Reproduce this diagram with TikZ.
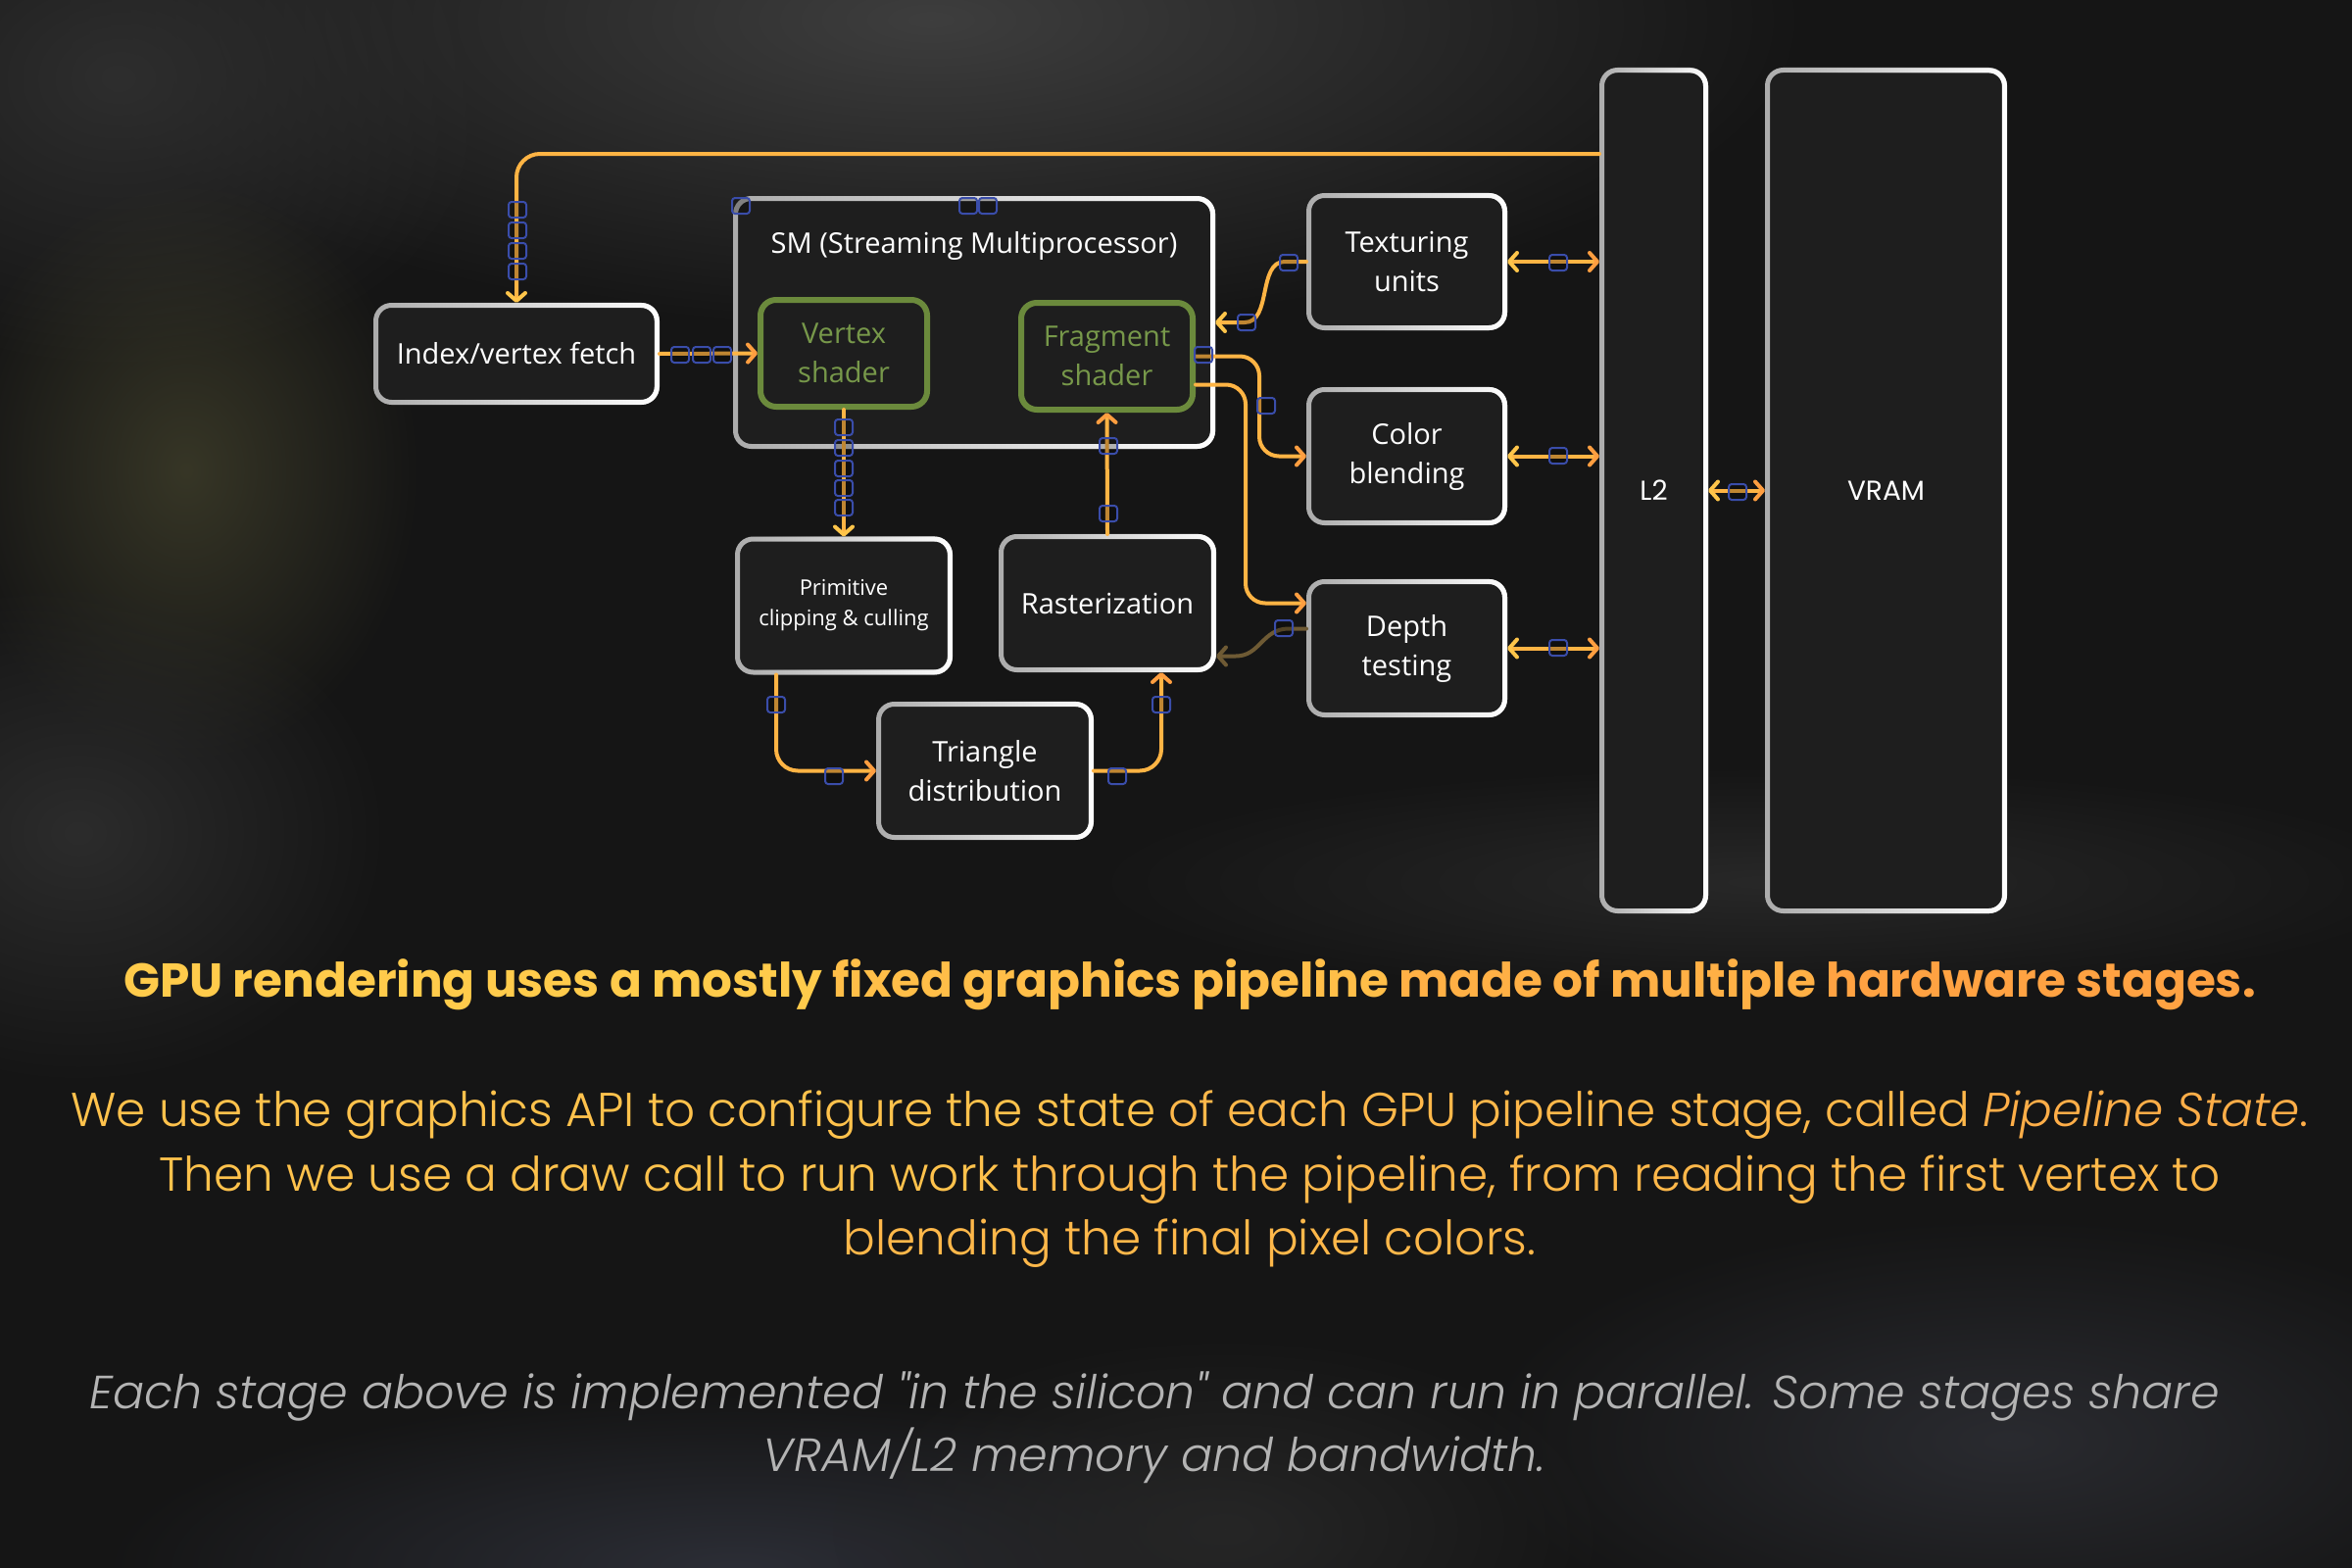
\documentclass[tikz,border=0pt]{standalone}
\usepackage{fontspec}
\setmainfont{Open Sans}
\newfontfamily\pop{Poppins}[UprightFont=* Light, ItalicFont=* Light Italic, BoldFont=* Bold]
\newfontfamily\popr{Poppins}
\usetikzlibrary{arrows.meta, calc, fadings}

\definecolor{bg}{HTML}{151515}
\definecolor{boxfill}{HTML}{1E1E1E}
\definecolor{ylw}{HTML}{FFC54A}
\definecolor{org}{HTML}{FF9E40}
\definecolor{wire}{HTML}{FFB444}
\definecolor{grn}{HTML}{6B8A3C}
\definecolor{grntxt}{HTML}{77984A}
\definecolor{hblue}{HTML}{3A4DAA}
\definecolor{dimw}{HTML}{6E5A34}
\definecolor{capgray}{HTML}{B4B4B4}
\definecolor{hA}{HTML}{FFCB4B}
\definecolor{hB}{HTML}{FFBE48}
\definecolor{hC}{HTML}{FFB045}
\definecolor{hD}{HTML}{FFA242}
\definecolor{bA}{HTML}{FFC24C}
\definecolor{bB}{HTML}{FFB84A}
\definecolor{bC}{HTML}{FFAE48}

\tikzfading[name=fadeleft, left color=transparent!100, right color=transparent!0]
\tikzfading[name=glow, inner color=transparent!0, outer color=transparent!100]

\tikzset{
  tipY/.tip={Straight Barb[length=8pt,width=18pt,round,color=ylw]},
  tipO/.tip={Straight Barb[length=8pt,width=18pt,round,color=org]},
  tipD/.tip={Straight Barb[length=8pt,width=18pt,round,color=dimw]},
  stage/.style={draw=gray!65, line width=5, rounded corners=16, fill=boxfill,
    text=white, align=center, inner sep=0, font=\fontsize{29}{40}\selectfont,
    postaction={draw=white, line width=5, path fading=fadeleft}},
  shader/.style={draw=grn, line width=6, rounded corners=16, fill=boxfill,
    text=grntxt, align=center, inner sep=0, font=\fontsize{29}{40}\selectfont},
  mem/.style={stage, font=\popr\fontsize{28}{34}\selectfont},
  lbl/.style={text=white, inner sep=0, font=\fontsize{29}{36}\selectfont},
  conn/.style={draw=wire, line width=4, line cap=round},
  dimconn/.style={draw=dimw, line width=4, line cap=round},
  hnd/.style={draw=hblue, line width=2, rounded corners=3, fill=black, fill opacity=0.25},
  caph/.style={anchor=base, inner sep=0, font=\pop\bfseries\fontsize{48.5}{56}\selectfont},
  capb/.style={anchor=base, inner sep=0, font=\pop\fontsize{48.5}{56}\selectfont},
  capi/.style={anchor=base, inner sep=0, text=capgray, font=\pop\itshape\fontsize{47.5}{56}\selectfont},
}

\begin{document}
\begin{tikzpicture}[x=1pt, y=-1pt]
\useasboundingbox (0,0) rectangle (2400,1600);
% background
\fill[bg] (0,0) rectangle (2400,1600);
\fill[color={rgb,255:red,62;green,62;blue,62}, path fading=glow] (950,20) ellipse [x radius=900pt, y radius=320pt];
\fill[color={rgb,255:red,46;green,46;blue,46}, path fading=glow] (120,80) ellipse [x radius=400pt, y radius=300pt];
\fill[color={rgb,255:red,66;green,65;blue,44}, path fading=glow, opacity=0.75] (190,480) ellipse [x radius=240pt, y radius=300pt];
\fill[color={rgb,255:red,44;green,44;blue,44}, path fading=glow] (80,850) ellipse [x radius=320pt, y radius=260pt];
\fill[color={rgb,255:red,44;green,46;blue,54}, path fading=glow] (750,1600) ellipse [x radius=650pt, y radius=180pt];
\fill[color={rgb,255:red,42;green,43;blue,48}, path fading=glow] (2050,1470) ellipse [x radius=550pt, y radius=230pt];
\fill[color={rgb,255:red,40;green,40;blue,40}, path fading=glow] (1800,900) ellipse [x radius=700pt, y radius=120pt];
\fill[color={rgb,255:red,38;green,38;blue,38}, path fading=glow] (1250,1560) ellipse [x radius=400pt, y radius=200pt];

% boxes
\node[stage, minimum width=487, minimum height=253] (sm) at (994,329) {};
\node[lbl] (smt) at (994,251) {SM (Streaming Multiprocessor)};
\node[shader, minimum width=170, minimum height=109] (vs) at (861,360.5) {Vertex\\shader};
\node[shader, minimum width=175, minimum height=109] (fs) at (1129.5,363.5) {Fragment\\shader};
\node[stage, minimum width=287, minimum height=99] (idx) at (527,361) {Index/vertex fetch};
\node[stage, minimum width=200, minimum height=135] (tex) at (1435.5,267) {Texturing\\units};
\node[stage, minimum width=200, minimum height=136] (cb) at (1435.5,465.5) {Color\\blending};
\node[stage, minimum width=200, minimum height=136] (dt) at (1435.5,661.5) {Depth\\testing};
\node[stage, minimum width=217, minimum height=136, font=\fontsize{22}{31}\selectfont] (pc) at (861,618) {Primitive\\clipping \& culling};
\node[stage, minimum width=217, minimum height=136] (ras) at (1130,615.5) {Rasterization};
\node[stage, minimum width=217, minimum height=136] (tri) at (1005,786.5) {Triangle\\distribution};
\node[mem, minimum width=106, minimum height=858] (l2) at (1687.5,500.5) {L2};
\node[mem, minimum width=242, minimum height=858] (vram) at (1924.5,500.5) {VRAM};

% connectors
\draw[conn, rounded corners=24, -tipY] (l2.west |- 0,157) -| (idx.north);
\draw[conn, -tipO] (idx.east) -- (vs.west);
\draw[conn, -tipY] (vs.south) -- (pc.north);
\draw[conn, -tipO] (ras.north) -- (fs.south);
\draw[conn, rounded corners=22, -tipO] ($(pc.south)+(-69,0)$) |- (tri.west);
\draw[conn, rounded corners=22, -tipO] (tri.east) -| ($(ras.south)+(55,0)$);
\draw[conn, -tipY] (tex.west) -- ($(tex.west)+(-22,0)$) .. controls ($(tex.west)+(-50,0)$) and ($(sm.east)+(58,0)$) .. ($(sm.east)+(30,0)$) -- (sm.east);
\draw[conn, rounded corners=20, -tipO] (fs.east) -| ($(cb.west)+(-48,0)$) -- (cb.west);
\draw[conn, rounded corners=20, -tipO] ($(fs.east)+(0,29)$) -| ($(dt.west)+(-62,-46)$) -- ($(dt.west)+(0,-46)$);
\draw[dimconn, -tipD] ($(dt.west)+(0,-20)$) -- ($(dt.west)+(-18,-20)$) .. controls ($(dt.west)+(-45,-20)$) and ($(ras.east)+(45,54)$) .. ($(ras.east)+(20,54)$) -- ($(ras.east)+(0,54)$);
\draw[conn, tipY-tipO] (tex.east) -- (tex.east -| l2.west);
\draw[conn, tipY-tipO] (cb.east) -- (cb.east -| l2.west);
\draw[conn, tipY-tipO] (dt.east) -- (dt.east -| l2.west);
\draw[conn, tipY-tipO] (l2.east) -- (vram.west);

% handles
\foreach \hx/\hy in {528/214,528/235,528/256,528/277,
  694/362,716/362,737/362, 756/210,988/210,1008/210,
  861/436,861/457,861/478,861/498,861/518, 1131/455,1131/524,
  792/719,851/792, 1140/792,1185/719, 1272/329,1315/268,
  1228/362,1292/414, 1310/641, 1590/268,1590/465,1590/661,1773/502}
  \draw[hnd] (\hx-9,\hy-8) rectangle (\hx+9,\hy+8);

% captions
\node[caph] (c1) at (1214,1017) {\textcolor{hA}{GPU rendering uses a mostly} \textcolor{hB}{fixed graphics pipeline} \textcolor{hC}{made of multiple} \textcolor{hD}{hardware stages.}};
\node[capb] (c2) at (1214,1149) {\textcolor{bA}{We use the graphics API to configure the state} \textcolor{bB}{of each GPU pipeline stage, called} \textcolor{bC}{\itshape Pipeline State}\textcolor{bC}{.}};
\node[capb] (c3) at (1214,1215) {\textcolor{bA}{Then we use a draw call to run work} \textcolor{bB}{through the pipeline, from reading the first vertex to}};
\node[capb, text=bB] (c4) at (1214,1280) {blending the final pixel colors.};
\node[capi] (c5) at (1178,1437) {Each stage above is implemented "in the silicon" and can run in parallel. Some stages share};
\node[capi] (c6) at (1178,1501) {VRAM/L2 memory and bandwidth.};
\end{tikzpicture}
\end{document}
